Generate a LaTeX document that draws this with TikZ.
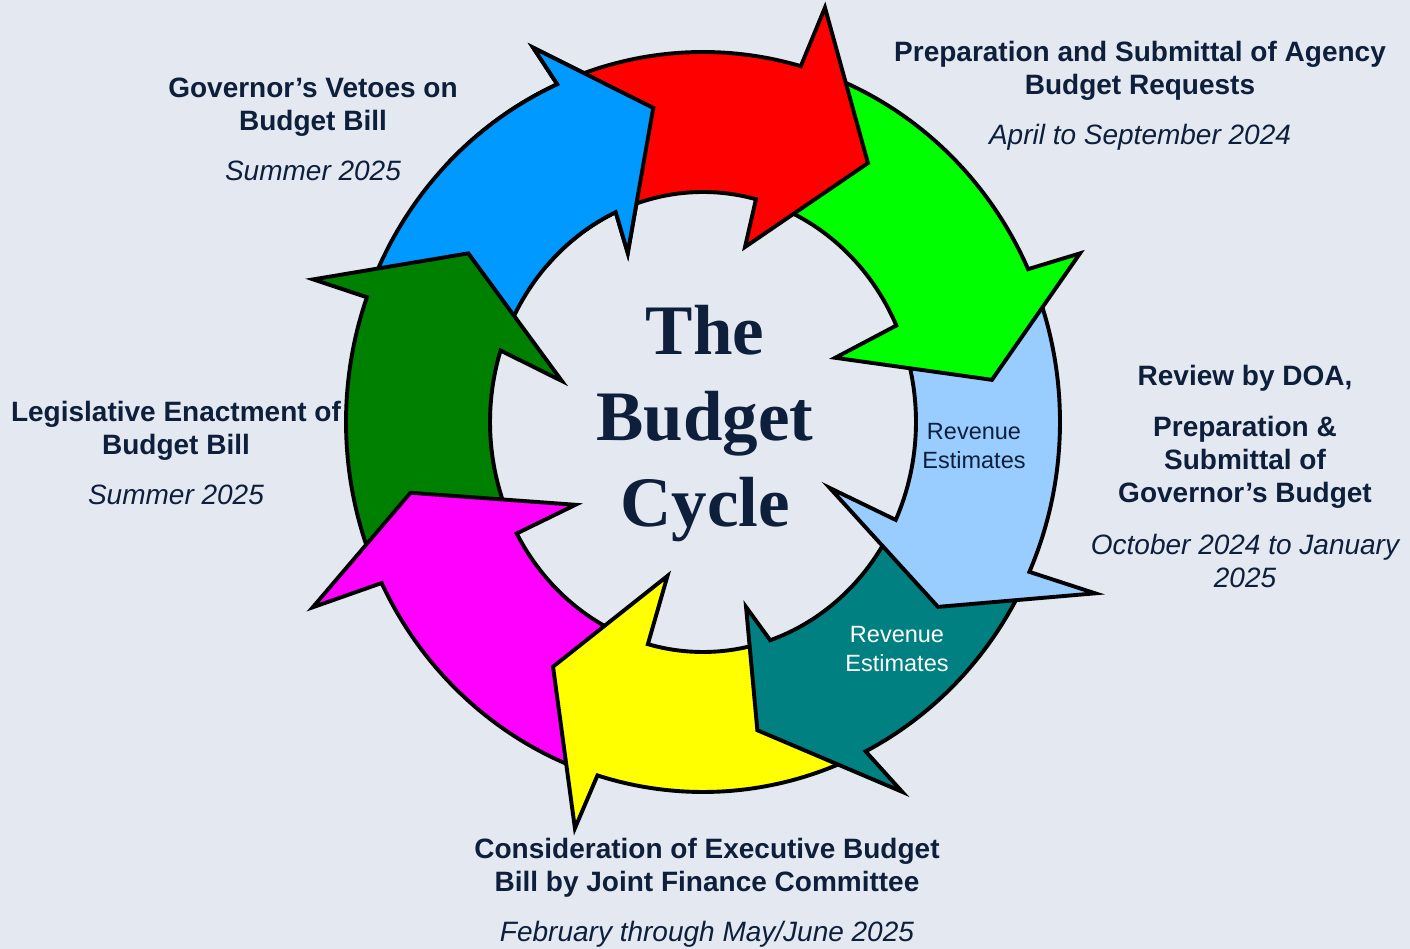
\documentclass[tikz,border=0pt]{standalone}
\usepackage{fontspec}
\setmainfont{Liberation Sans}
\newfontfamily\titlefont{Liberation Serif}

\definecolor{bgcol}{HTML}{E4E8F0}
\definecolor{navy}{HTML}{0D1F3B}
\definecolor{arrowred}{HTML}{FF0000}
\definecolor{arrowgreen}{HTML}{00FF00}
\definecolor{arrowltblue}{HTML}{99CCFF}
\definecolor{arrowteal}{HTML}{008080}
\definecolor{arrowyellow}{HTML}{FFFF00}
\definecolor{arrowmagenta}{HTML}{FF00FF}
\definecolor{arrowdkgreen}{HTML}{008000}
\definecolor{arrowblue}{HTML}{0099FF}

% colour, tail outer/inner angle, head base outer angle,
% outer barb, tip, inner barb, head base inner angle
\newcommand{\ringarrow}[8]{%
  \draw[ringarrow,fill=#1] (#2:357 and 370)
    arc[start angle=#2,end angle=#4,x radius=357,y radius=370]
    -- (#5) -- (#6) -- (#7) -- (#8:213 and 230)
    arc[start angle=#8,end angle=#3,x radius=213,y radius=230] -- cycle;}

\begin{document}
\begin{tikzpicture}[x=1pt,y=1pt,
                    ringarrow/.style={draw=black,
                                      line width=3.9pt,
                                      line join=miter
                                     },
                    stagelabel/.style={align=center,
                                       inner sep=0pt,
                                       text=navy,
                                       font=\fontsize{28}{33}\selectfont\bfseries
                                      },
                    revenue/.style={align=center,
                                    inner sep=0pt,
                                    font=\fontsize{23.5}{29}\selectfont
                                   }
                   ]
\fill[bgcol] (0,0) rectangle (1410,949);
\useasboundingbox (0,0) rectangle (1410,949);

\begin{scope}[shift={(703,527)}]
\ringarrow{arrowblue}{-202.7}{-201.1}{-245.9}{-245.6:411}{-261:318}{-246:185}{-245.8}
\ringarrow{arrowdkgreen}{-157.2}{-154}{-199.7}{-200.1:415}{-215.7:289}{-196.2:147}{-198.1}
\ringarrow{arrowmagenta}{-110.2}{-108}{-154.2}{-154.6:432}{-166.4:301}{-147:152}{-151}
\ringarrow{arrowyellow}{-66}{-74.6}{-107.2}{-107.5:426}{-121.5:287}{-103:158}{-105}
\ringarrow{arrowteal}{-26.9}{-28.2}{-62.9}{-61.7:420}{-80:313}{-76.9:190}{-71.6}
\ringarrow{arrowltblue}{21.4}{21.8}{-23.9}{-23.6:428}{-38.2:299}{-27.5:143}{-25.2}
\ringarrow{arrowgreen}{71.1}{72.6}{24.4}{24.1:413}{8.3:292}{25.9:147}{24.8}
\ringarrow{arrowred}{111.1}{111.1}{74.1}{73.6:432}{57.5:307}{76.5:180}{75.6}
% blue head again, over the red tail
\begin{scope}
\clip (0,0) -- (88:600) arc[start angle=88,end angle=135,radius=600] -- cycle;
\ringarrow{arrowblue}{-202.7}{-201.1}{-245.9}{-245.6:411}{-261:318}{-246:185}{-245.8}
\end{scope}
\end{scope}

\node[align=center,inner sep=0pt,text=navy,
      font=\fontsize{71}{86}\selectfont\titlefont\bfseries,anchor=base]
      (title) at (705,422) {The\\Budget\\Cycle};

\node[revenue,text=navy,anchor=base] (rev1) at (974,480) {Revenue\\Estimates};
\node[revenue,text=white,anchor=base] (rev2) at (897,277) {Revenue\\Estimates};

\node[stagelabel,anchor=base] (agency) at (1140,804)
  {Preparation and Submittal of Agency\\Budget Requests\\[17pt]
   \mdseries\itshape April to September 2024};
\node[stagelabel,anchor=base] (doa) at (1245,361)
  {Review by DOA,\\[18pt]Preparation \&\\Submittal of\\Governor’s Budget\\[19pt]
   \mdseries\itshape October 2024 to January\\\mdseries\itshape 2025};
\node[stagelabel,anchor=base] (jfc) at (707,7)
  {Consideration of Executive Budget\\Bill by Joint Finance Committee\\[17pt]
   \mdseries\itshape February through May/June 2025};
\node[stagelabel,anchor=base] (enact) at (176,444)
  {Legislative Enactment of\\Budget Bill\\[17pt]
   \mdseries\itshape Summer 2025};
\node[stagelabel,anchor=base] (veto) at (313,768)
  {Governor’s Vetoes on\\Budget Bill\\[17pt]
   \mdseries\itshape Summer 2025};
\end{tikzpicture}
\end{document}
